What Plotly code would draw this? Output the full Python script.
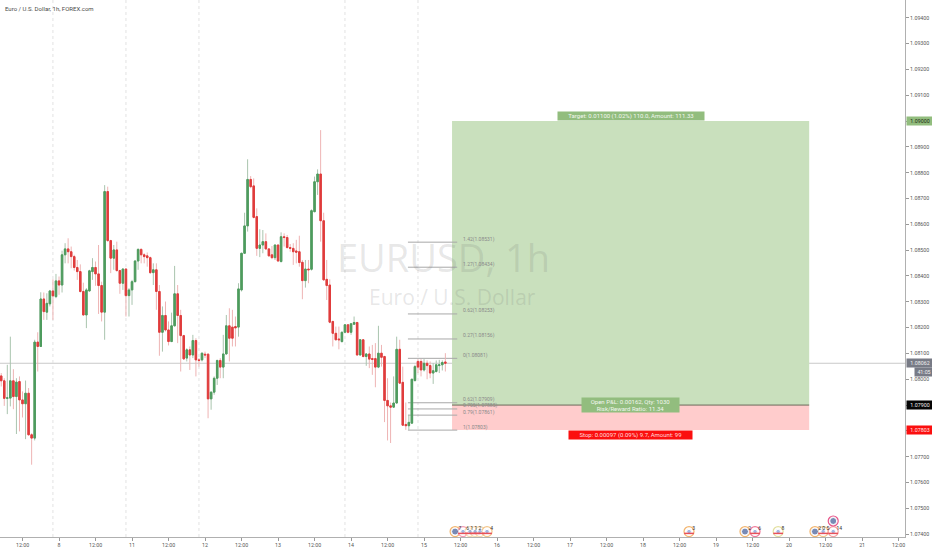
import numpy as np
import plotly.graph_objects as go

# hourly bars: one per hour, hour 0 is the tick labelled "8"
first_hour = -19
opens = [1.08013,1.07994,1.07926,1.07927,1.07994,1.07933,1.07991,1.07920,1.07905,1.07946,
1.07785,1.07772,1.08144,1.08127,1.08311,1.08260,1.08292,1.08342,1.08320,1.08381,
1.08365,1.08482,1.08505,1.08494,1.08475,1.08433,1.08417,1.08340,1.08249,1.08342,
1.08417,1.08433,1.08408,1.08363,1.08260,1.08727,1.08537,1.08469,1.08501,1.08421,
1.08372,1.08427,1.08324,1.08346,1.08378,1.08458,1.08503,1.08482,1.08478,1.08471,
1.08413,1.08424,1.08340,1.08182,1.08247,1.08191,1.08146,1.08207,1.08331,1.08247,
1.08169,1.08082,1.08114,1.08094,1.08150,1.08075,1.08075,1.08097,1.08097,1.07924,
1.07950,1.08004,1.08073,1.08047,1.08098,1.08207,1.08202,1.08204,1.08202,1.08346,
1.08488,1.08594,1.08774,1.08749,1.08630,1.08507,1.08520,1.08533,1.08505,1.08482,
1.08471,1.08520,1.08456,1.08552,1.08549,1.08510,1.08507,1.08497,1.08494,1.08453,
1.08382,1.08427,1.08426,1.08649,1.08765,1.08795,1.08614,1.08387,1.08365,1.08224,
1.08178,1.08156,1.08146,1.08182,1.08211,1.08182,1.08213,1.08220,1.08094,1.08153,
1.08088,1.08098,1.08080,1.08080,1.08047,1.08101,1.08088,1.07918,1.07897,1.07892,
1.07908,1.08116,1.07988,1.07825,1.07820,1.07830,1.07995,1.08069,1.08069,1.08036,
1.08062,1.08053,1.08024,1.08030,1.08053,1.08056,1.08067]
highs = [1.08024,1.08004,1.08056,1.08165,1.08039,1.08004,1.08011,1.07953,1.07995,1.07966,
1.07791,1.08153,1.08182,1.08337,1.08336,1.08333,1.08346,1.08387,1.08408,1.08398,
1.08498,1.08527,1.08546,1.08514,1.08482,1.08462,1.08445,1.08374,1.08353,1.08424,
1.08469,1.08456,1.08520,1.08378,1.08752,1.08746,1.08540,1.08520,1.08533,1.08424,
1.08430,1.08430,1.08353,1.08385,1.08462,1.08507,1.08507,1.08488,1.08491,1.08475,
1.08449,1.08449,1.08365,1.08282,1.08301,1.08224,1.08258,1.08439,1.08365,1.08269,
1.08172,1.08120,1.08127,1.08172,1.08159,1.08082,1.08103,1.08107,1.08101,1.07953,
1.08011,1.08075,1.08082,1.08172,1.08249,1.08275,1.08269,1.08243,1.08372,1.08490,
1.08645,1.08852,1.08787,1.08778,1.08662,1.08581,1.08578,1.08565,1.08507,1.08516,
1.08522,1.08522,1.08569,1.08565,1.08559,1.08524,1.08527,1.08540,1.08556,1.08462,
1.08462,1.08462,1.08658,1.08785,1.08813,1.08965,1.08645,1.08462,1.08387,1.08226,
1.08204,1.08204,1.08185,1.08213,1.08213,1.08217,1.08243,1.08222,1.08155,1.08155,
1.08101,1.08127,1.08133,1.08140,1.08207,1.08133,1.08091,1.08004,1.07910,1.08011,
1.08165,1.08153,1.08049,1.07910,1.07862,1.08002,1.08056,1.08078,1.08078,1.08078,
1.08073,1.08069,1.08062,1.08073,1.08075,1.08073,1.08101]
lows = [1.07972,1.07897,1.07865,1.07895,1.07884,1.07788,1.07798,1.07852,1.07768,1.07781,
1.07669,1.07763,1.08030,1.08125,1.08230,1.08230,1.08282,1.08230,1.08314,1.08327,
1.08336,1.08449,1.08449,1.08430,1.08421,1.08385,1.08336,1.08247,1.08198,1.08340,
1.08385,1.08362,1.08253,1.08224,1.08153,1.08533,1.08411,1.08424,1.08417,1.08331,
1.08346,1.08243,1.08243,1.08288,1.08375,1.08424,1.08449,1.08449,1.08436,1.08408,
1.08365,1.08269,1.08091,1.08107,1.08185,1.08131,1.08144,1.08204,1.08140,1.08030,
1.08075,1.08069,1.08036,1.08082,1.08011,1.08049,1.08069,1.08082,1.07849,1.07882,
1.07940,1.07978,1.08004,1.08004,1.08096,1.08069,1.08127,1.08127,1.08165,1.08340,
1.08486,1.08572,1.08740,1.08623,1.08478,1.08473,1.08488,1.08501,1.08475,1.08465,
1.08462,1.08454,1.08452,1.08514,1.08507,1.08494,1.08443,1.08449,1.08436,1.08310,
1.08355,1.08372,1.08421,1.08647,1.08714,1.08533,1.08382,1.08307,1.08217,1.08127,
1.08150,1.08116,1.08142,1.08178,1.08178,1.08172,1.08211,1.08092,1.08092,1.08085,
1.08052,1.08043,1.08017,1.07969,1.08043,1.08049,1.07834,1.07763,1.07753,1.07890,
1.07905,1.07982,1.07820,1.07804,1.07804,1.07828,1.07991,1.08024,1.08011,1.08030,
1.08000,1.08004,1.07982,1.08026,1.08024,1.08034,1.08030]
closes = [1.07994,1.07926,1.07928,1.07994,1.07933,1.07989,1.07920,1.07905,1.07946,1.07785,
1.07772,1.08144,1.08127,1.08311,1.08262,1.08294,1.08342,1.08323,1.08381,1.08365,
1.08482,1.08505,1.08494,1.08475,1.08433,1.08417,1.08340,1.08249,1.08346,1.08420,
1.08433,1.08408,1.08363,1.08260,1.08727,1.08537,1.08469,1.08501,1.08421,1.08372,
1.08427,1.08324,1.08346,1.08378,1.08458,1.08503,1.08482,1.08475,1.08471,1.08413,
1.08424,1.08340,1.08182,1.08247,1.08191,1.08146,1.08207,1.08331,1.08247,1.08169,
1.08079,1.08114,1.08094,1.08150,1.08075,1.08073,1.08101,1.08094,1.07924,1.07950,
1.08004,1.08073,1.08047,1.08098,1.08207,1.08159,1.08159,1.08199,1.08350,1.08488,
1.08594,1.08774,1.08746,1.08627,1.08507,1.08520,1.08533,1.08505,1.08478,1.08471,
1.08520,1.08458,1.08552,1.08549,1.08510,1.08507,1.08494,1.08492,1.08452,1.08382,
1.08427,1.08424,1.08653,1.08765,1.08795,1.08614,1.08385,1.08363,1.08221,1.08178,
1.08153,1.08153,1.08182,1.08211,1.08182,1.08215,1.08220,1.08094,1.08153,1.08088,
1.08098,1.08078,1.08077,1.08047,1.08101,1.08085,1.07918,1.07897,1.07892,1.07908,
1.08116,1.07985,1.07822,1.07820,1.07833,1.08000,1.08049,1.08047,1.08036,1.08062,
1.08053,1.08024,1.08033,1.08056,1.08056,1.08065,1.08062]

x_tick_hours = list(range(-12, 277, 12))
x_tick_labels = ["12:00","8","12:00","11","12:00","12","12:00","13","12:00","14","12:00","15",
                 "12:00","16","12:00","17","12:00","18","12:00","19","12:00","20","12:00","21","12:00"]
y_ticks = [1.074,1.075,1.076,1.077,1.078,1.079,1.08,1.081,1.082,1.083,1.084,1.085,1.086,1.087,
           1.088,1.089,1.09,1.091,1.092,1.093,1.094]
session_breaks = [-2, 22, 46, 94, 118]

current_price = 1.08062
entry, target, stop = 1.07900, 1.09000, 1.07803
pos_start, pos_end = 129.2, 246.6

fib_levels = [1.08531,1.08434,1.08253,1.08156,1.08081,1.07909,1.07885,1.07861,1.07803]
fib_labels = ["1.42(1.08531)","1.27(1.08434)","0.62(1.08253)","0.27(1.08156)","0(1.08081)",
              "0.62(1.07909)","0.705(1.07885)","0.79(1.07861)","1(1.07803)"]
fib_start, fib_end, fib_label_x = 114.7, 130.9, 132.2

event_hours = [130.2,132.8,135.1,136.8,138.4,140.7,207.1,225.5,228.8,236.4,248.5,251.2,254.5,254.5]
event_prices = [1.0741]*13 + [1.07451]
event_kinds = ["b","f","f","f","f","f","f","b","f","f","b","f","f","b"]
event_rings = ["#f3b56e","#f49ab0","#f7d9b0","#f7d9b0","#f7d9b0","#f3c58a","#f3b56e","#f3b56e",
               "#f07a9a","#e3e0a0","#f3b56e","#f3c58a","#f3a0a0","#e8568a"]
event_counts = ["7","6 1 1 2","","","","4","3","2","6","8","2 0 5","","14",""]

o, h, l, c = map(np.array, (opens, highs, lows, closes))
x = np.arange(first_hour, first_hour + len(o))

fig = go.Figure()
# wicks
fig.add_trace(go.Candlestick(x=x, open=o, high=h, low=l, close=c,
    increasing=dict(line=dict(color="#a9c4ae", width=1), fillcolor="#a9c4ae"),
    decreasing=dict(line=dict(color="#eeb4b4", width=1), fillcolor="#eeb4b4"),
    showlegend=False, hoverinfo="skip"))
# bodies
fig.add_trace(go.Candlestick(x=x, open=o, close=c, high=np.maximum(o, c), low=np.minimum(o, c),
    increasing=dict(line=dict(color="#4e9c5e", width=1), fillcolor="#4e9c5e"),
    decreasing=dict(line=dict(color="#e03c3c", width=1), fillcolor="#e03c3c"),
    showlegend=False, hoverinfo="skip"))

# events
is_flag = [k == "f" for k in event_kinds]
fig.add_trace(go.Scatter(x=event_hours, y=event_prices, mode="markers",
    marker=dict(size=10, color="white", line=dict(color=event_rings, width=1.2)),
    showlegend=False, hoverinfo="skip", cliponaxis=False))
fig.add_trace(go.Scatter(x=event_hours, y=event_prices, mode="markers",
    marker=dict(size=[4.5 if f else 7 for f in is_flag], color=["#7f9bd6" if f else "#3f5a96" for f in is_flag]),
    showlegend=False, hoverinfo="skip", cliponaxis=False))
fig.add_trace(go.Scatter(x=[a for a, f in zip(event_hours, is_flag) if f],
    y=[p - 0.00007 for p, f in zip(event_prices, is_flag) if f], mode="markers",
    marker=dict(size=7, symbol="line-ew", line=dict(color="#e8505a", width=1.5)),
    showlegend=False, hoverinfo="skip", cliponaxis=False))
fig.add_trace(go.Scatter(x=[a + 1.1 for a in event_hours], y=[p + 0.0001 for p in event_prices],
    mode="text", text=event_counts, textposition="middle right",
    textfont=dict(size=5, color="#333", family="Roboto"),
    showlegend=False, hoverinfo="skip", cliponaxis=False))

shapes = [
    dict(type="rect", layer="below", x0=pos_start, x1=pos_end, y0=entry, y1=target,
         fillcolor="#c9e0bd", line_width=0),
    dict(type="rect", layer="below", x0=pos_start, x1=pos_end, y0=stop, y1=entry,
         fillcolor="#ffcccc", line_width=0),
    dict(type="line", layer="below", x0=pos_start, x1=pos_end, y0=entry, y1=entry,
         line=dict(color="#6a6a5a", width=1)),
    dict(type="line", layer="below", xref="paper", x0=0, x1=1, y0=current_price, y1=current_price,
         line=dict(color="#c9c9c9", width=1)),
]
for b in session_breaks:
    shapes.append(dict(type="line", layer="below", x0=b, x1=b, yref="paper", y0=0, y1=1,
                       line=dict(color="#e2e2e2", width=1, dash="dot")))
for lv in fib_levels:
    shapes.append(dict(type="line", layer="below", x0=fib_start, x1=fib_end, y0=lv, y1=lv,
                       line=dict(color="#a8a8a8", width=1)))

anns = [
    dict(x=0.0035, y=0.9945, xref="paper", yref="paper", xanchor="left", yanchor="top", showarrow=False,
         text="Euro / U.S. Dollar, 1h, FOREX.com", font=dict(size=6, color="#4a4a4a")),
    dict(x=0.4906, y=0.5214, xref="paper", yref="paper", showarrow=False, text="EURUSD, 1h",
         font=dict(size=38, color="rgba(110,110,110,0.17)", family="Open Sans")),
    dict(x=0.5, y=0.4465, xref="paper", yref="paper", showarrow=False, text="Euro / U.S. Dollar",
         font=dict(size=21, color="rgba(110,110,110,0.17)", family="Open Sans")),
]
for lv, t in zip(fib_levels, fib_labels):
    anns.append(dict(x=fib_label_x, y=lv, xanchor="left", yanchor="middle", yshift=3, showarrow=False,
                     text=t, font=dict(size=5, color="#8a8a8a")))
mid = (pos_start + pos_end) / 2
anns += [
    dict(x=mid, y=target, yanchor="bottom", showarrow=False, width=146, height=8, bgcolor="#92bd7e",
         borderpad=0, text="Target: 0.01100 (1.02%) 110.0, Amount: 111.33", font=dict(size=6, color="#f1f6ee")),
    dict(x=mid, y=entry, yanchor="middle", showarrow=False, width=97, height=14, bgcolor="#92bd7e",
         borderpad=0, text="Open P&L: 0.00162, Qty: 1030<br>Risk/Reward Ratio: 11.34",
         font=dict(size=6, color="#f1f6ee")),
    dict(x=mid, y=stop, yanchor="top", showarrow=False, width=123, height=8, bgcolor="#fb0f0f",
         borderpad=0, text="Stop: 0.00097 (0.09%) 9.7, Amount: 99", font=dict(size=6, color="#ffdede")),
]
tag = lambda y, t, bg, fg, w=26, dx=1: dict(x=1, xref="paper", y=y, xanchor="left", yanchor="middle",
    xshift=dx, showarrow=False, width=w, height=8, bgcolor=bg, borderpad=0, text=t, font=dict(size=5.3, color=fg))
anns += [
    tag(target, "1.09000", "#92bd7e", "#1c2a14"),
    tag(current_price, "1.08062", "#787b86", "#f0f0f0"),
    tag(1.08028, "41:05", "#787b86", "#f0f0f0", w=18, dx=9),
    tag(entry, "1.07900", "#050505", "#f0f0f0"),
    tag(stop, "1.07803", "#fb0f0f", "#ffe5e5"),
]

fig.update_layout(
    width=932, height=550, margin=dict(l=0, r=27, t=0, b=13),
    paper_bgcolor="white", plot_bgcolor="white", font=dict(family="Roboto", color="#555"),
    shapes=shapes, annotations=anns, showlegend=False,
    xaxis=dict(range=[-19.4, 278.1], rangeslider=dict(visible=False), tickmode="array",
               tickvals=x_tick_hours, ticktext=x_tick_labels, showgrid=False, zeroline=False,
               ticks="outside", ticklen=3, tickcolor="#999", showline=True, linecolor="#b0b0b0", linewidth=1,
               tickfont=dict(size=5.3, color="#555"), tickangle=0),
    yaxis=dict(range=[1.07389, 1.09469], side="right", tickmode="array", tickvals=y_ticks,
               tickformat=".5f", showgrid=False, zeroline=False, ticks="outside", ticklen=3,
               tickcolor="#999", showline=True, linecolor="#b0b0b0", linewidth=1,
               tickfont=dict(size=5.3, color="#555")),
)
fig.write_html("out.html", config=dict(displayModeBar=False),
               post_script="document.body.style.margin='0';document.body.style.overflow='hidden';")
